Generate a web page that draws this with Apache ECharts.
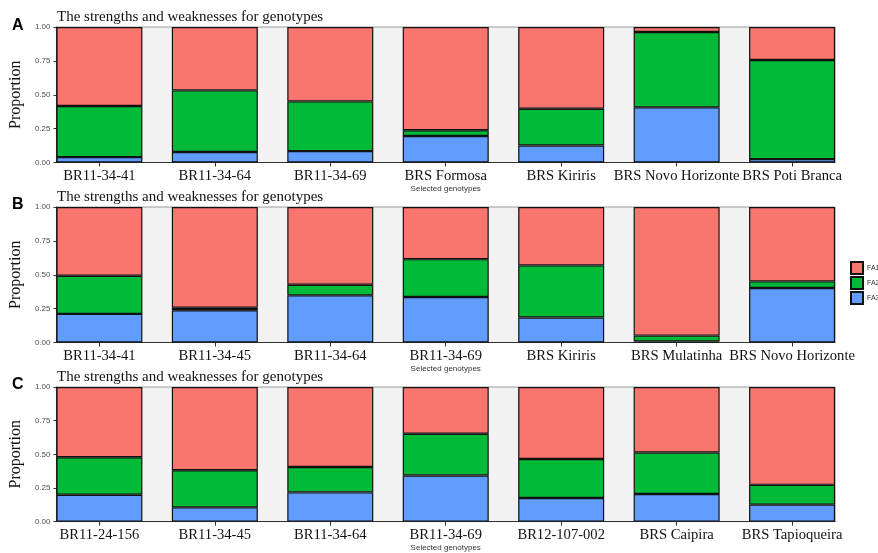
<!DOCTYPE html>
<html>
<head>
<meta charset="utf-8">
<script src="https://cdn.jsdelivr.net/npm/echarts@6/dist/echarts.min.js"></script>
<style>
html,body{margin:0;padding:0;background:#fff;}
#chart{width:878px;height:553px;}
</style>
</head>
<body>
<div id="chart"></div>
<script>
// ---- Data ----
const seriesNames = ['FA1', 'FA2', 'FA3'];
const yTicks = [0, 0.25, 0.5, 0.75, 1];

const categoriesA = ['BR11-34-41', 'BR11-34-64', 'BR11-34-69', 'BRS Formosa', 'BRS Kiriris', 'BRS Novo Horizonte', 'BRS Poti Branca'];
const fa1A = [0.583, 0.468, 0.549, 0.762, 0.603, 0.037, 0.243];
const fa2A = [0.377, 0.455, 0.367, 0.042, 0.272, 0.556, 0.732];
const fa3A = [0.040, 0.077, 0.084, 0.196, 0.125, 0.407, 0.025];

const categoriesB = ['BR11-34-41', 'BR11-34-45', 'BR11-34-64', 'BR11-34-69', 'BRS Kiriris', 'BRS Mulatinha', 'BRS Novo Horizonte'];
const fa1B = [0.507, 0.743, 0.574, 0.385, 0.431, 0.949, 0.549];
const fa2B = [0.282, 0.019, 0.078, 0.279, 0.385, 0.044, 0.049];
const fa3B = [0.211, 0.238, 0.348, 0.336, 0.184, 0.007, 0.402];

const categoriesC = ['BR11-24-156', 'BR11-34-45', 'BR11-34-64', 'BR11-34-69', 'BR12-107-002', 'BRS Caipira', 'BRS Tapioqueira'];
const fa1C = [0.522, 0.618, 0.594, 0.347, 0.535, 0.487, 0.727];
const fa2C = [0.278, 0.276, 0.189, 0.310, 0.290, 0.308, 0.147];
const fa3C = [0.200, 0.106, 0.217, 0.343, 0.175, 0.205, 0.126];

const panelLetters = ['A', 'B', 'C'];
const panelTitle = 'The strengths and weaknesses for genotypes';
const xAxisName = 'Selected genotypes';
const yAxisName = 'Proportion';

// ---- Build ----
const colors = {FA1: '#F8766D', FA2: '#00BA38', FA3: '#619CFF'};
const panels = [
  {cats: categoriesA, fa1: fa1A, fa2: fa2A, fa3: fa3A, top: 27},
  {cats: categoriesB, fa1: fa1B, fa2: fa2B, fa3: fa3B, top: 207},
  {cats: categoriesC, fa1: fa1C, fa2: fa2C, fa3: fa3C, top: 387}
];
const gridLeft = 54, gridRight = 43, gridHeight = 135.5;
const halfW = 0.3717;

const grid = [], xAxis = [], yAxis = [], series = [], title = [];
panels.forEach((p, k) => {
  grid.push({left: gridLeft, right: gridRight, top: p.top, height: gridHeight,
    show: true, backgroundColor: '#F2F2F2', borderColor: '#9a9a9a', borderWidth: 1});
  const idxs = p.cats.map((c, i) => i);
  xAxis.push({
    type: 'value', gridIndex: k, min: -halfW, max: p.cats.length - 1 + halfW,
    splitLine: {show: false},
    axisLine: {show: true, onZero: false, lineStyle: {color: '#333', width: 1}},
    axisTick: {show: true, customValues: idxs, length: 4, lineStyle: {color: '#333'}},
    axisLabel: {customValues: idxs, formatter: v => p.cats[Math.round(v)], hideOverlap: false,
      showMinLabel: true, showMaxLabel: true,
      fontFamily: 'Liberation Serif', fontSize: 14.6, color: '#111', margin: 6.5},
    name: xAxisName, nameLocation: 'middle', nameGap: 21,
    nameTextStyle: {fontFamily: 'Liberation Sans', fontSize: 8, color: '#333'}
  });
  yAxis.push({
    type: 'value', gridIndex: k, min: 0, max: 1, interval: 0.25,
    splitLine: {show: false},
    axisLine: {show: true, onZero: false, lineStyle: {color: '#333', width: 1}},
    axisTick: {show: true, length: 3, lineStyle: {color: '#333'}},
    axisLabel: {formatter: v => v.toFixed(2), fontFamily: 'Liberation Sans', fontSize: 8, color: '#4d4d4d', margin: 6},
    name: yAxisName, nameLocation: 'middle', nameGap: 25,
    nameTextStyle: {fontFamily: 'Liberation Serif', fontSize: 16, color: '#111'}
  });
  [['FA3', p.fa3], ['FA2', p.fa2], ['FA1', p.fa1]].forEach(([nm, arr]) => {
    series.push({
      name: nm, type: 'bar', stack: 'st' + k, xAxisIndex: k, yAxisIndex: k,
      barWidth: 86,
      encode: {x: 1, y: 0},
      data: arr.map((v, i) => [v, i]),
      itemStyle: {color: colors[nm], borderColor: '#111', borderWidth: 1.2},
      emphasis: {disabled: true}
    });
  });
  title.push({text: panelTitle, left: 57, top: p.top - 17, padding: 0,
    textStyle: {fontFamily: 'Liberation Serif', fontSize: 15, fontWeight: 'normal', color: '#111'}});
  title.push({text: panelLetters[k], left: 12, top: p.top - 9 + (k === 0 ? 0 : -1), padding: 0,
    textStyle: {fontFamily: 'Liberation Sans', fontSize: 16, fontWeight: 'bold', color: '#000'}});
});

const chart = echarts.init(document.getElementById('chart'), null, {renderer: 'canvas'});
chart.setOption({
  animation: false,
  backgroundColor: '#fff',
  title: title,
  legend: {
    data: seriesNames, orient: 'vertical', left: 850, top: 261,
    itemWidth: 12, itemHeight: 12, itemGap: 1, icon: 'rect',
    padding: 0,
    textStyle: {fontFamily: 'Liberation Sans', fontSize: 7, color: '#333', padding: [0, 0, 0, -1]}
  },
  grid: grid, xAxis: xAxis, yAxis: yAxis, series: series
});
</script>
</body>
</html>
